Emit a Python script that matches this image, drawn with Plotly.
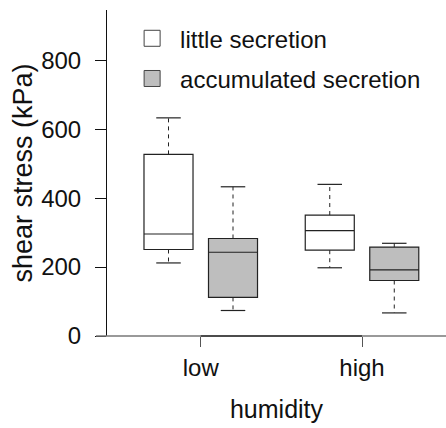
import plotly.graph_objects as go

# ---- data ----
groups = ["low", "high"]
group_pos = [1.5, 4.0]
series_names = ["little secretion", "accumulated secretion"]
series_colors = ["#FFFFFF", "#BEBEBE"]
positions = [[1.0, 3.5], [2.0, 4.5]]          # box centres per series (low, high)
whisker_low = [[212, 198], [74, 67]]
q1 = [[251, 249], [112, 161]]
median = [[296, 306], [243, 192]]
q3 = [[527, 351], [283, 258]]
whisker_high = [[633, 440], [433, 269]]
y_ticks = [0, 200, 400, 600, 800]

BOX_W = 0.76
FONT = "Liberation Sans, Arial, Helvetica, sans-serif"
LINE = "#222222"

fig = go.Figure()

for s in range(2):
    for g in range(2):
        x = positions[s][g]
        fig.add_trace(go.Box(
            x=[x], q1=[q1[s][g]], median=[median[s][g]], q3=[q3[s][g]],
            lowerfence=[q1[s][g]], upperfence=[q3[s][g]],
            width=BOX_W, fillcolor=series_colors[s],
            line=dict(color=LINE, width=1.2),
            showlegend=False, hoverinfo="skip", boxpoints=False,
        ))
        # dashed whiskers
        fig.add_trace(go.Scatter(
            x=[x, x, None, x, x],
            y=[q3[s][g], whisker_high[s][g], None, q1[s][g], whisker_low[s][g]],
            mode="lines", line=dict(color=LINE, width=1, dash="4px,4px"),
            showlegend=False, hoverinfo="skip",
        ))
        # caps
        hw = BOX_W / 4
        fig.add_trace(go.Scatter(
            x=[x - hw, x + hw, None, x - hw, x + hw],
            y=[whisker_high[s][g], whisker_high[s][g], None,
               whisker_low[s][g], whisker_low[s][g]],
            mode="lines", line=dict(color=LINE, width=1.2),
            showlegend=False, hoverinfo="skip",
        ))

# legend entries
for s in range(2):
    fig.add_trace(go.Scatter(
        x=[None], y=[None], mode="markers", name=series_names[s],
        legendgroup=series_names[s],
        marker=dict(symbol="square", size=16, color=series_colors[s],
                    line=dict(color="#444444", width=1)),
    ))

# bottom axis line (light, full width) and darker segment between outer ticks
fig.add_shape(type="line", xref="paper", yref="paper",
              x0=-11 / 339, x1=1, y0=0, y1=0, layer="above",
              line=dict(color="#777777", width=1.5))
fig.add_shape(type="line", xref="x", yref="paper",
              x0=group_pos[0], x1=group_pos[-1], y0=0, y1=0, layer="above",
              line=dict(color="#333333", width=1.5))

fig.update_layout(
    width=446, height=428,
    margin=dict(l=107, r=0, t=10, b=92),
    paper_bgcolor="white", plot_bgcolor="white",
    font=dict(family=FONT, size=24, color="#111111"),
    legend=dict(x=0.0505, y=0.981, xanchor="left", yanchor="top",
                bgcolor="rgba(0,0,0,0)", tracegroupgap=6,
                font=dict(size=24), itemwidth=46),
    xaxis=dict(range=[0.0465, 5.302], showgrid=False, zeroline=False,
               tickmode="array", tickvals=group_pos, ticktext=groups,
               ticks="outside", ticklen=10, tickcolor="#555555",
               showline=False,
               tickfont=dict(size=24),
               title=dict(text="humidity", font=dict(size=25), standoff=20)),
    yaxis=dict(range=[0, 946], showgrid=False, zeroline=False,
               tickmode="array", tickvals=y_ticks,
               ticks="outside", ticklen=11, tickcolor="#111111",
               ticklabelstandoff=9,
               showline=True, linecolor="#111111", linewidth=1,
               tickfont=dict(size=24),
               title=dict(text="shear stress (kPa)", font=dict(size=27), standoff=0)),
)

fig.write_html("out.html")
